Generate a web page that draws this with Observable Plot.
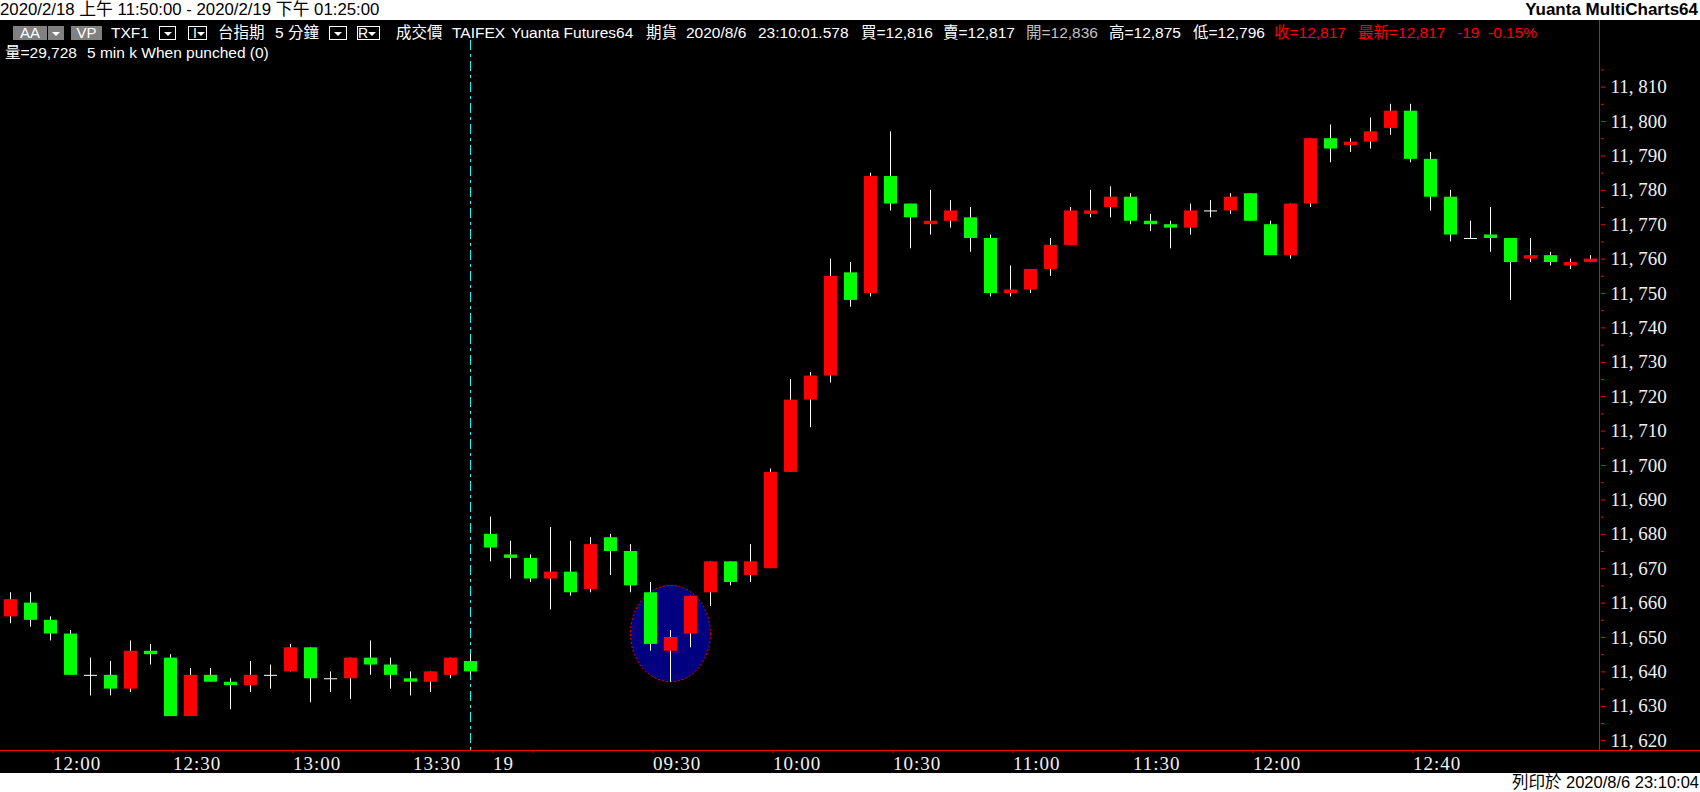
<!DOCTYPE html>
<html><head><meta charset="utf-8">
<script src="https://cdn.jsdelivr.net/npm/d3@7"></script>
<script src="https://cdn.jsdelivr.net/npm/@observablehq/plot@0.6"></script>
<style>
html,body{margin:0;padding:0;background:#fff;width:1700px;height:792px;overflow:hidden;}
#top{position:relative;height:20px;background:#fff;color:#000;font-family:"Liberation Sans",Arial,"Noto Sans CJK TC",sans-serif;}
#top .t{position:absolute;left:0;top:0;line-height:20px;font-size:16.8px;white-space:nowrap;}
#top .b{position:absolute;right:2px;top:0;line-height:20px;font-size:17px;font-weight:bold;white-space:nowrap;}
#wrap{position:relative;width:1700px;height:753px;background:#000;overflow:hidden;}
#wrap svg{display:block;}
.h{position:absolute;white-space:nowrap;font-family:"Liberation Sans",Arial,"Noto Sans CJK TC",sans-serif;font-size:15.5px;color:#fff;line-height:16px;}
.l1{top:5px;} .l2{top:25px;}
.gbox{position:absolute;top:6px;height:14px;background:#808080;color:#fff;font-family:"Liberation Sans",Arial,sans-serif;font-size:15px;line-height:14px;text-align:center;}
.wbox{position:absolute;top:6px;height:12px;border:1px solid #fff;background:#000;color:#fff;font-family:"Liberation Sans",Arial,sans-serif;font-size:14px;line-height:12px;}
.arr{display:inline-block;width:0;height:0;border-left:4px solid transparent;border-right:4px solid transparent;border-top:4px solid #fff;vertical-align:middle;}
#hline{position:absolute;left:0;top:730px;width:1700px;height:1px;background:#ff0000;}
#vline{position:absolute;left:1599px;top:0;width:1px;height:731px;background:#ff0000;}
#foot{position:relative;height:19px;background:#fff;color:#000;font-family:"Liberation Sans",Arial,"Noto Sans CJK TC",sans-serif;font-size:16.5px;}
#foot span{position:absolute;right:1px;top:0;line-height:19px;white-space:nowrap;}
.chart g[aria-label="x-axis tick label"] text{letter-spacing:1px;}
</style>
</head><body>
<div id="top"><span class="t">2020/2/18 上午 11:50:00 - 2020/2/19 下午 01:25:00</span><span class="b">Yuanta MultiCharts64</span></div>
<div id="wrap">
  <div id="hline"></div><div id="vline"></div>
  <div class="gbox" style="left:13px;width:34px;">AA</div>
  <div class="gbox" style="left:48px;width:16px;"><span class="arr"></span></div>
  <div class="gbox" style="left:71px;width:31px;">VP</div>
  <span class="h l1" style="left:111px;">TXF1</span>
  <div class="wbox" style="left:159px;width:15px;text-align:center;"><span class="arr"></span></div>
  <div class="wbox" style="left:188px;width:17px;">&nbsp;I<span class="arr"></span></div>
  <span class="h l1" style="left:218px;">台指期</span>
  <span class="h l1" style="left:275px;">5 分鐘</span>
  <div class="wbox" style="left:329px;width:16px;text-align:center;"><span class="arr"></span></div>
  <div class="wbox" style="left:357px;width:21px;">R<span class="arr"></span></div>
  <span class="h l1" style="left:396px;">成交價</span>
  <span class="h l1" style="left:452px;">TAIFEX</span>
  <span class="h l1" style="left:511px;">Yuanta Futures64</span>
  <span class="h l1" style="left:646px;">期貨</span>
  <span class="h l1" style="left:686px;">2020/8/6</span>
  <span class="h l1" style="left:758px;">23:10:01.578</span>
  <span class="h l1" style="left:861px;">買=12,816</span>
  <span class="h l1" style="left:943px;">賣=12,817</span>
  <span class="h l1" style="left:1026px;color:#c0c0c0;">開=12,836</span>
  <span class="h l1" style="left:1109px;">高=12,875</span>
  <span class="h l1" style="left:1193px;">低=12,796</span>
  <span class="h l1" style="left:1274px;color:#ff0000;">收=12,817</span>
  <span class="h l1" style="left:1358px;color:#ff0000;">最新=12,817</span>
  <span class="h l1" style="left:1457px;color:#ff0000;">-19</span>
  <span class="h l1" style="left:1488px;color:#ff0000;">-0.15%</span>
  <span class="h l2" style="left:5px;">量=29,728</span>
  <span class="h l2" style="left:87px;">5 min k When punched (0)</span>
</div>
<div id="foot"><span>列印於 2020/8/6 23:10:04</span></div>
<script>
// 5-minute bars, labelled by bar close time (2020/2/18 day session end, then 2020/2/19)
const times = [
  "11:50","11:55","12:00","12:05","12:10","12:15","12:20","12:25","12:30","12:35","12:40","12:45",
  "12:50","12:55","13:00","13:05","13:10","13:15","13:20","13:25","13:30","13:35","13:40","13:45",
  "08:50","08:55","09:00","09:05","09:10","09:15","09:20","09:25","09:30","09:35","09:40","09:45",
  "09:50","09:55","10:00","10:05","10:10","10:15","10:20","10:25","10:30","10:35","10:40","10:45",
  "10:50","10:55","11:00","11:05","11:10","11:15","11:20","11:25","11:30","11:35","11:40","11:45",
  "11:50","11:55","12:00","12:05","12:10","12:15","12:20","12:25","12:30","12:35","12:40","12:45",
  "12:50","12:55","13:00","13:05","13:10","13:15","13:20","13:25"
];
const open = [
  11656,11660,11655,11651,11639,11639,11635,11646,11644,11627,11639,11637,
  11636,11639,11640,11647,11638,11638,11644,11642,11638,11637,11639,11643,
  11680,11674,11673,11667,11669,11664,11679,11675,11663,11646,11651,11663,
  11672,11668,11670,11698,11719,11726,11756,11750,11784,11776,11770,11771,
  11772,11766,11750,11751,11757,11764,11773,11775,11778,11771,11770,11769,
  11774,11774,11779,11770,11761,11776,11795,11793,11794,11798,11803,11789,
  11778,11766,11767,11766,11760,11761,11758,11759
];
const high = [
  11663,11663,11656,11652,11644,11643,11649,11648,11645,11641,11641,11638,
  11643,11642,11648,11647,11640,11644,11649,11644,11640,11640,11644,11645,
  11685,11678,11674,11682,11678,11679,11680,11677,11666,11652,11662,11672,
  11672,11677,11699,11725,11727,11760,11759,11785,11797,11776,11780,11777,
  11775,11767,11758,11757,11766,11775,11780,11781,11779,11773,11771,11776,
  11777,11779,11779,11771,11776,11795,11799,11795,11801,11805,11805,11791,
  11780,11771,11775,11766,11766,11762,11760,11761
];
const low = [
  11654,11653,11649,11639,11633,11633,11634,11642,11627,11627,11637,11629,
  11634,11635,11640,11631,11634,11632,11639,11635,11633,11634,11638,11639,
  11672,11667,11666,11658,11662,11663,11668,11663,11646,11637,11647,11659,
  11665,11666,11670,11698,11711,11724,11746,11749,11774,11763,11767,11769,
  11762,11749,11749,11750,11755,11764,11772,11772,11770,11768,11763,11767,
  11772,11773,11771,11761,11760,11775,11788,11791,11792,11796,11788,11774,
  11765,11766,11762,11748,11759,11758,11757,11759
];
const close = [
  11661,11655,11651,11639,11639,11635,11646,11645,11627,11639,11637,11636,
  11639,11639,11647,11638,11638,11644,11642,11639,11637,11640,11644,11640,
  11676,11673,11667,11669,11663,11677,11675,11665,11648,11650,11662,11672,
  11666,11672,11698,11719,11726,11755,11748,11784,11776,11772,11771,11774,
  11766,11750,11751,11757,11764,11774,11774,11778,11771,11770,11769,11774,
  11774,11778,11771,11761,11776,11795,11792,11794,11797,11803,11789,11778,
  11767,11766,11766,11759,11761,11759,11759,11760
];
// x-axis ticks: bar index and its label
const xTickBars = [2, 8, 14, 20, 24, 26, 32, 38, 44, 50, 56, 62, 70];
const xTickLabels = ["12:00","12:30","13:00","13:30","19","","09:30","10:00","10:30","11:00","11:30","12:00","12:40"];
// price-axis ticks
const yMajorTicks = [11620,11630,11640,11650,11660,11670,11680,11690,11700,11710,11720,11730,11740,11750,11760,11770,11780,11790,11800,11810];
const yMinorTicks = [11625,11635,11645,11655,11665,11675,11685,11695,11705,11715,11725,11735,11745,11755,11765,11775,11785,11795,11805,11815];
// last bar of the 2/18 session (session break marker)
const sessionBreakBar = [23];
// highlighted region: bars 31..35 (center 33), price 11637..11665
const highlightBars = [31, 33, 35];
const highlightPrices = [11637, 11665];

const bars = times.map((t, i) => ({i, t, o: open[i], h: high[i], l: low[i], c: close[i]}));
const up = bars.filter(d => d.c > d.o);
const down = bars.filter(d => d.c < d.o);
const doji = bars.filter(d => d.c === d.o);

const fmt = d3.format(",");
const serif = "'Liberation Serif','DejaVu Serif',serif";

function ellipseMark(index, scales) {
  const x = scales.x, y = scales.y;
  const bw = x.bandwidth ? x.bandwidth() : 0;
  const cx = x(highlightBars[1]) + bw / 2;
  const rx = (x(highlightBars[2]) - x(highlightBars[0])) / 2;
  const y0 = y(highlightPrices[0]), y1 = y(highlightPrices[1]);
  const el = d3.create("svg:ellipse")
    .attr("cx", cx).attr("cy", (y0 + y1) / 2)
    .attr("rx", rx).attr("ry", Math.abs(y0 - y1) / 2)
    .attr("fill", "#000080").attr("stroke", "#ff0000")
    .attr("stroke-width", 1).attr("stroke-dasharray", "2,2");
  return el.node();
}

const chart = Plot.plot({
  className: "chart",
  width: 1700,
  height: 753,
  marginTop: 20,
  marginBottom: 23,
  marginLeft: 0,
  marginRight: 100,
  style: {background: "#000", color: "#fff", overflow: "visible"},
  x: {type: "band", domain: d3.range(times.length), range: [4, 1597], paddingInner: 0.35, paddingOuter: 0, align: 0.5, round: false},
  y: {domain: [11617.15, 11823.55]},
  marks: [
    ellipseMark,
    Plot.ruleX(sessionBreakBar, {x: d => d, stroke: "#00ffff", strokeWidth: 1, strokeDasharray: "10,4,3,4", dx: -0.5}),
    Plot.ruleX(bars, {x: "i", y1: "l", y2: "h", stroke: "#ffffff", strokeWidth: 1, dx: -0.5}),
    Plot.barY(up, {x: "i", y1: "o", y2: "c", fill: "#ff0000"}),
    Plot.barY(down, {x: "i", y1: "c", y2: "o", fill: "#00ff00"}),
    Plot.tickY(doji, {x: "i", y: "c", stroke: "#ffffff", strokeWidth: 1}),
    Plot.axisX({
      ticks: xTickBars,
      tickFormat: i => xTickLabels[xTickBars.indexOf(i)],
      tickSize: 3, tickPadding: 3,
      stroke: "#ff0000", fill: "#f0f0f0",
      textAnchor: "start", dx: 2,
      fontFamily: serif, fontSize: 19,
      label: null
    }),
    Plot.axisY({
      anchor: "right",
      ticks: yMajorTicks,
      tickFormat: d => fmt(d).replace(",", ", "),
      tickSize: 4, tickPadding: 6,
      stroke: "#ff0000", fill: "#f0f0f0",
      textAnchor: "start",
      fontFamily: serif, fontSize: 19,
      label: null
    }),
    Plot.axisY({
      anchor: "right",
      ticks: yMinorTicks,
      tickFormat: () => "",
      tickSize: 3,
      stroke: "#ff0000",
      label: null
    })
  ]
});
document.getElementById("wrap").prepend(chart);
</script>
</body></html>
